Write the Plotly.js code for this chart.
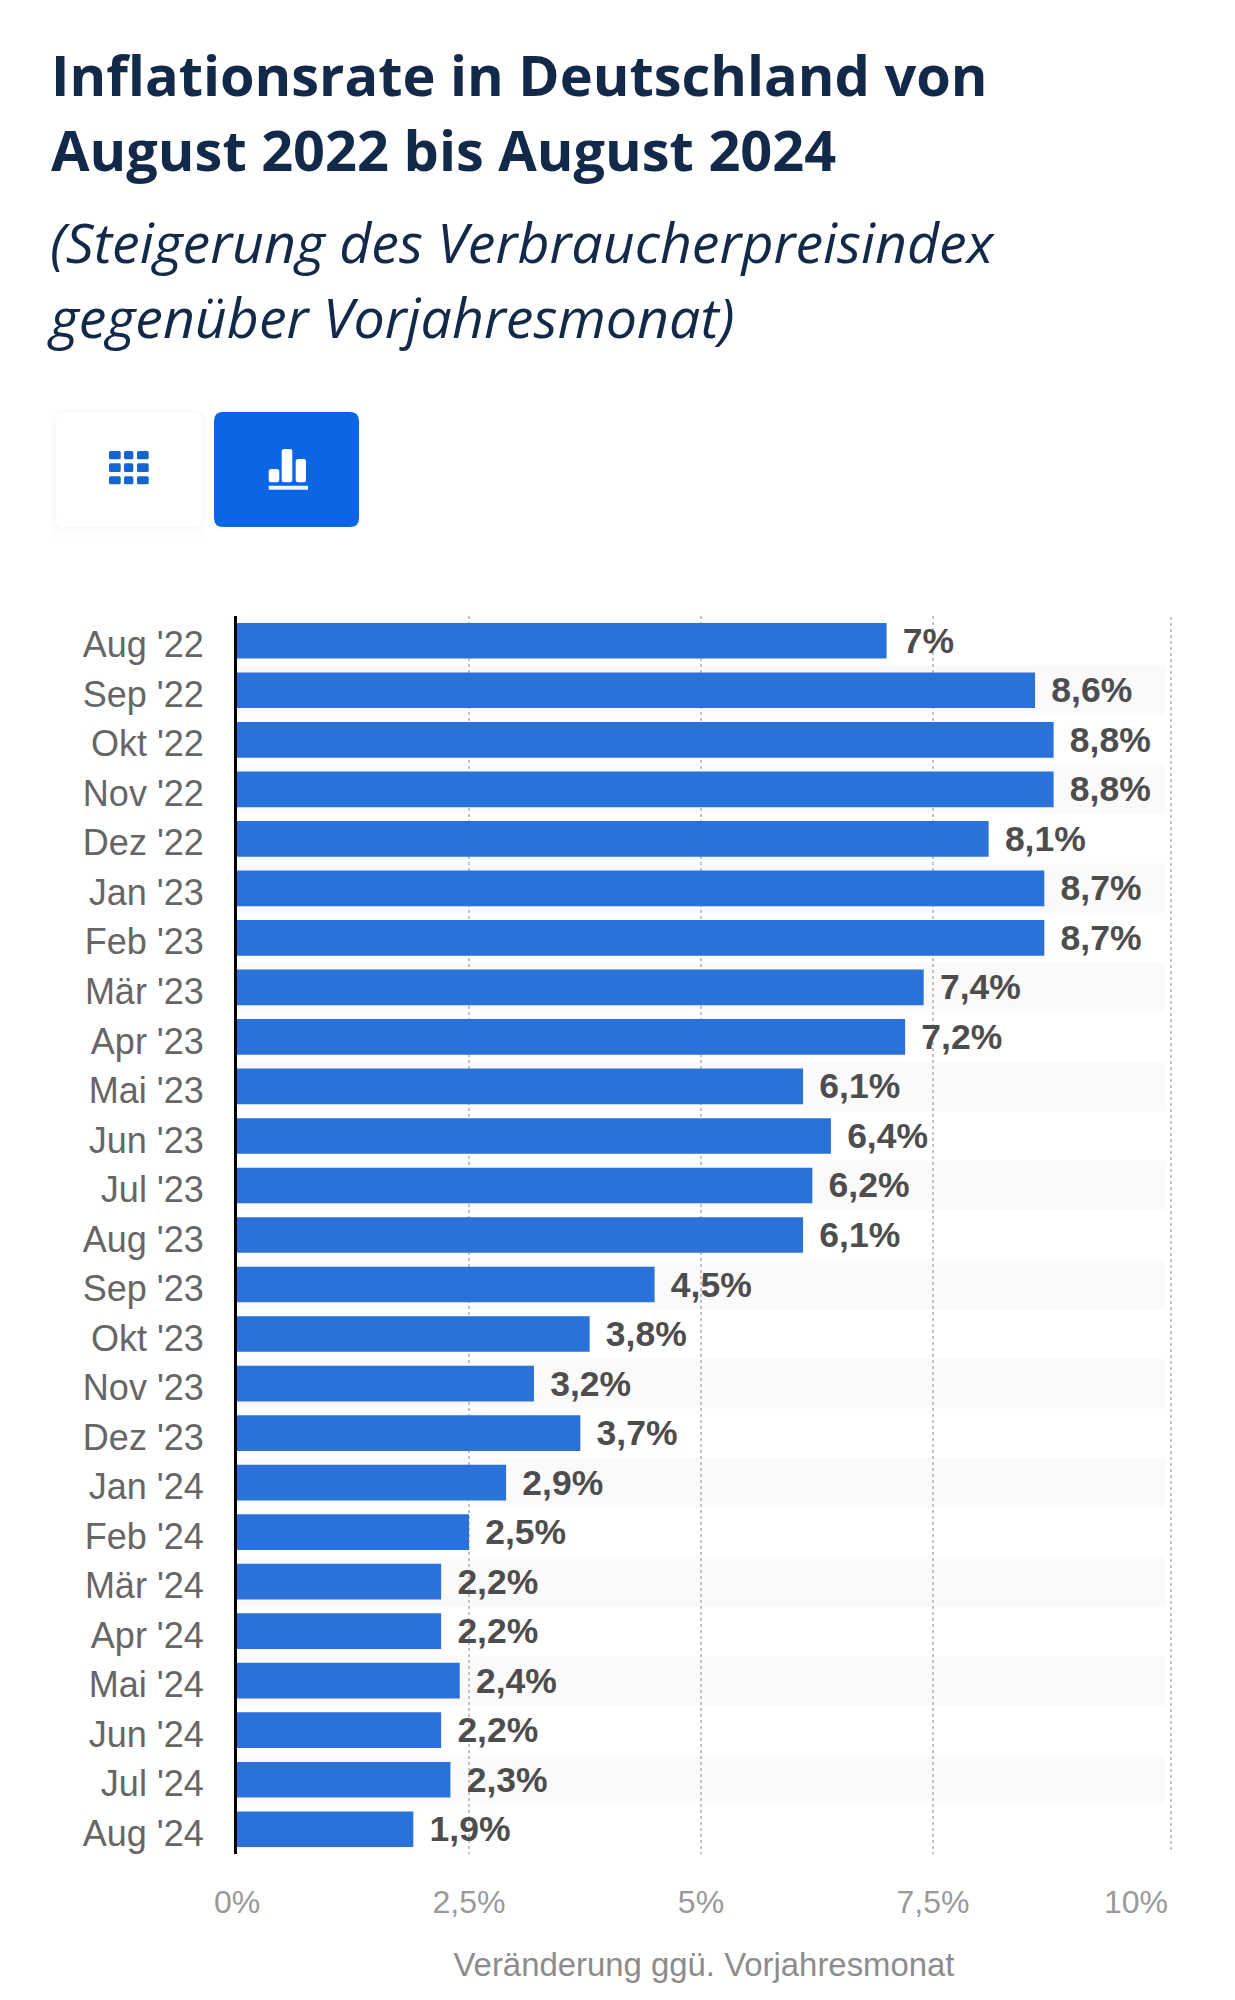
<!DOCTYPE html>
<html><head><meta charset="utf-8">
<script src="https://cdn.plot.ly/plotly-3.0.1.min.js"></script>
<style>html,body{margin:0;padding:0;background:#fff}</style>
</head><body><div id="chart" style="width:1235px;height:2000px"></div>
<script>
const months = ["Aug '22","Sep '22","Okt '22","Nov '22","Dez '22","Jan '23","Feb '23","Mär '23","Apr '23","Mai '23","Jun '23","Jul '23","Aug '23","Sep '23","Okt '23","Nov '23","Dez '23","Jan '24","Feb '24","Mär '24","Apr '24","Mai '24","Jun '24","Jul '24","Aug '24"];
const rates = [7,8.6,8.8,8.8,8.1,8.7,8.7,7.4,7.2,6.1,6.4,6.2,6.1,4.5,3.8,3.2,3.7,2.9,2.5,2.2,2.2,2.4,2.2,2.3,1.9];
const tickValues = [0,2.5,5,7.5];
const tickLabels = ["0%","2,5%","5%","7,5%"];
const lastTickValue = 10, lastTickLabel = "10%";
const titleLines = ["Inflationsrate in Deutschland von","August 2022 bis August 2024"];
const subtitleLines = ["(Steigerung des Verbraucherpreisindex","gegenüber Vorjahresmonat)"];
const axisTitle = "Veränderung ggü. Vorjahresmonat";

const W=1235,H=2000,L=237,R=64,T=616,B=146;
const px=x=>(x-L)/(W-L-R), py=y=>1-(y-T)/(H-T-B);
const rr=(x0,y0,x1,y1,r,fill)=>({type:'path',xref:'paper',yref:'paper',layer:'above',
  path:`M${px(x0+r)},${py(y0)}L${px(x1-r)},${py(y0)}Q${px(x1)},${py(y0)} ${px(x1)},${py(y0+r)}L${px(x1)},${py(y1-r)}Q${px(x1)},${py(y1)} ${px(x1-r)},${py(y1)}L${px(x0+r)},${py(y1)}Q${px(x0)},${py(y1)} ${px(x0)},${py(y1-r)}L${px(x0)},${py(y0+r)}Q${px(x0)},${py(y0)} ${px(x0+r)},${py(y0)}Z`,
  fillcolor:fill,line:{width:0}});

const shapes=[];
months.forEach((m,i)=>{ if(i%2===1) shapes.push({type:'rect',layer:'below',xref:'x',yref:'y',x0:0,x1:lastTickValue,y0:i-0.5,y1:i+0.5,fillcolor:'#fafafa',line:{width:0}}); });
shapes.push({type:'line',xref:'paper',yref:'paper',layer:'below',x0:1,x1:1,y0:py(1850),y1:1,line:{color:'#c4c4c4',width:2,dash:'dot'}});
// view-switch buttons
for(let k=12;k>=2;k-=2) shapes.push(rr(56-k/2,412-k/4,202+k/2,527+k,10,'rgba(0,0,0,0.005)'));
shapes.push(rr(56,412,202,527,9,'#ffffff'));
shapes.push(rr(214,412,359,527,9,'#0a66e4'));
const gridCols=[[109,120.7],[124,133.3],[137,148.7]], gridRows=[[451,459.3],[463.3,472],[476.3,484.3]];
gridRows.forEach(r=>gridCols.forEach(c=>shapes.push(rr(c[0],r[0],c[1],r[1],1.5,'#1565cf'))));
shapes.push(rr(268.7,469,279.3,482.3,2.5,'#fff'),rr(281.7,449,292.3,482.3,2.5,'#fff'),rr(295.7,459,306,482.3,2.5,'#fff'),rr(268.7,485.7,308,489.7,0.5,'#eef4fe'));

const bar={type:'bar',orientation:'h',y:months,x:rates,width:0.72,
  marker:{color:'#2a71d9',line:{width:0}},
  text:rates.map(v=>'\u00a0<span style="font-size:12px">\u00a0</span><b>'+String(v).replace('.',',')+'%</b>'),
  textposition:'outside',cliponaxis:false,constraintext:'none',
  textfont:{family:'Liberation Sans',size:35.5,color:'#4d4d4d'},hoverinfo:'skip'};

const layout={width:W,height:H,margin:{l:L,r:R,t:T,b:B,pad:0},paper_bgcolor:'#fff',plot_bgcolor:'rgba(0,0,0,0)',showlegend:false,bargap:0.28,
  title:{text:titleLines.map(s=>`<span style="font-size:55.9px">${s}</span>`).join('<br>'),x:51/W,xanchor:'left',y:1-96/H,yanchor:'top',
    font:{family:'Open Sans',size:57.7,color:'#12294a',weight:700}},
  xaxis:{range:[0,10.065],tickmode:'array',tickvals:tickValues,ticktext:tickLabels,showgrid:true,griddash:'dot',gridcolor:'#c4c4c4',gridwidth:2,zeroline:false,showline:false,ticks:'',ticklabelstandoff:26,
    tickfont:{family:'Liberation Sans',size:32,color:'#999999'},
    title:{text:axisTitle+'\u00a0\u00a0',standoff:33,font:{family:'Liberation Sans',size:32.9,color:'#8c8c8c'}}},
  yaxis:{type:'category',categoryorder:'array',categoryarray:months,autorange:false,range:[24.5,-0.5],showgrid:false,zeroline:false,showline:true,linecolor:'#000',linewidth:3,ticks:'',ticklabelstandoff:23,ticklabelshift:-4,
    tickfont:{family:'Liberation Sans',size:36,color:'#666666'}},
  annotations:[
    {xref:'paper',yref:'paper',x:px(45),y:py(202),xanchor:'left',yanchor:'top',align:'left',showarrow:false,
     text:subtitleLines.map(s=>`<span style="font-size:55.5px"><i>${s}</i></span>`).join('<br>'),
     font:{family:'Open Sans',size:57.7,color:'#12294a'}},
    {xref:'x',yref:'paper',x:lastTickValue,xshift:5,y:py(1902),xanchor:'right',yanchor:'middle',showarrow:false,text:lastTickLabel,
     font:{family:'Liberation Sans',size:32,color:'#999999'}}
  ],
  shapes};
Plotly.newPlot('chart',[bar],layout,{displayModeBar:false,staticPlot:true});
</script></body></html>
